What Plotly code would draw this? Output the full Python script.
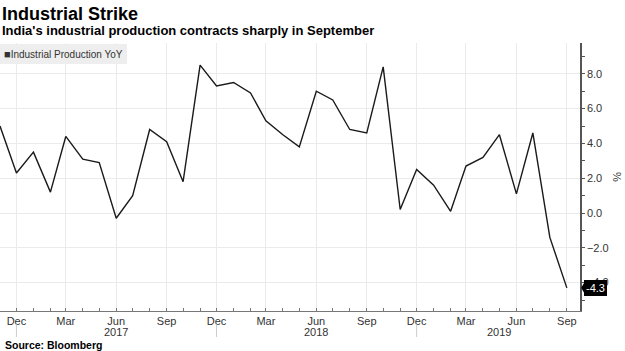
import plotly.graph_objects as go

months = ["2016-11-01", "2016-12-01",
          "2017-01-01", "2017-02-01", "2017-03-01", "2017-04-01", "2017-05-01", "2017-06-01",
          "2017-07-01", "2017-08-01", "2017-09-01", "2017-10-01", "2017-11-01", "2017-12-01",
          "2018-01-01", "2018-02-01", "2018-03-01", "2018-04-01", "2018-05-01", "2018-06-01",
          "2018-07-01", "2018-08-01", "2018-09-01", "2018-10-01", "2018-11-01", "2018-12-01",
          "2019-01-01", "2019-02-01", "2019-03-01", "2019-04-01", "2019-05-01", "2019-06-01",
          "2019-07-01", "2019-08-01", "2019-09-01"]
ip_yoy = [5.0, 2.3,
          3.5, 1.2, 4.4, 3.1, 2.9, -0.3,
          1.0, 4.8, 4.1, 1.8, 8.5, 7.3,
          7.5, 6.9, 5.3, 4.5, 3.8, 7.0,
          6.5, 4.8, 4.6, 8.4, 0.2, 2.5,
          1.6, 0.1, 2.7, 3.2, 4.5, 1.1,
          4.6, -1.4, -4.3]

year_labels = ["2017", "2018", "2019"]
year_label_pos = ["2017-06-01", "2018-06-01", "2019-05-01"]
year_separators = ["2016-12-01", "2017-12-01", "2018-12-01"]

title = "Industrial Strike"
subtitle = "India's industrial production contracts sharply in September"
series_name = "Industrial Production YoY"
source = "Source: Bloomberg"

FONT = "Liberation Sans, Arial, sans-serif"

fig = go.Figure()
fig.add_trace(go.Scatter(x=months, y=ip_yoy, mode="lines", name=series_name,
                         line=dict(color="#1a1a1a", width=1.4), showlegend=False))

fig.update_layout(
    width=625, height=351,
    margin=dict(l=0, r=45, t=43, b=40),
    paper_bgcolor="white", plot_bgcolor="white",
    font=dict(family=FONT, color="#333333", size=11),
    showlegend=False,
)

fig.update_xaxes(
    type="date",
    range=["2016-11-01", "2019-09-25"],
    tick0="2016-12-01", dtick="M3", tickformat="%b",
    ticks="inside", ticklen=3, tickcolor="#777777",
    showgrid=True, gridcolor="#ebebeb", gridwidth=1,
    showline=True, linecolor="#777777", linewidth=1,
    minor=dict(dtick="M1", tick0="2016-12-01", ticks="inside", ticklen=3,
               tickcolor="#777777", showgrid=False),
    tickfont=dict(size=11, color="#333333"),
    zeroline=False,
)

fig.update_yaxes(
    side="right",
    range=[-5.63, 9.77],
    tick0=0, dtick=2, tickformat=".1f",
    ticks="outside", ticklen=3, tickcolor="#555555",
    showgrid=True, gridcolor="#ebebeb", gridwidth=1,
    showline=True, linecolor="#555555", linewidth=1.5,
    minor=dict(dtick=1, ticks="outside", ticklen=3, tickcolor="#555555", showgrid=False),
    tickfont=dict(size=11, color="#333333"),
    zeroline=False,
)

ann = []
ann.append(dict(text="<b>" + title + "</b>", xref="paper", yref="paper", x=0, y=1.108,
                xanchor="left", yanchor="middle", showarrow=False,
                font=dict(size=18, color="#000000", family=FONT)))
ann.append(dict(text="<b>" + subtitle + "</b>", xref="paper", yref="paper", x=0, y=1.045,
                xanchor="left", yanchor="middle", showarrow=False,
                font=dict(size=13, color="#000000", family=FONT)))
ann.append(dict(text="<b>" + source + "</b>", xref="paper", yref="paper", x=0.005, y=-0.127,
                xanchor="left", yanchor="middle", showarrow=False,
                font=dict(size=10.5, color="#000000", family=FONT)))
ann.append(dict(text="<span style='font-size:11px'>■</span>" + series_name, xref="paper", yref="paper",
                x=0, y=0.959, xanchor="left", yanchor="middle", showarrow=False,
                bgcolor="#eeeeee", borderpad=4, borderwidth=0,
                font=dict(size=10, color="#333333", family=FONT)))
ann.append(dict(text="%", xref="paper", yref="paper", x=1.064, y=0.5, textangle=90,
                xanchor="center", yanchor="middle", showarrow=False,
                font=dict(size=11, color="#333333", family=FONT)))
for lbl, pos in zip(year_labels, year_label_pos):
    ann.append(dict(text=lbl, xref="x", yref="paper", x=pos, y=-0.078,
                    xanchor="center", yanchor="middle", showarrow=False,
                    font=dict(size=11, color="#333333", family=FONT)))
ann.append(dict(text=f"{ip_yoy[-1]:.1f}", xref="paper", yref="y", x=1.007, y=ip_yoy[-1],
                xanchor="left", yanchor="middle", showarrow=False,
                bgcolor="#000000", borderpad=2, borderwidth=0,
                font=dict(size=11, color="#ffffff", family=FONT)))
fig.update_layout(annotations=ann)

shapes = []
for d in year_separators:
    shapes.append(dict(type="line", xref="x", yref="paper", x0=d, x1=d, y0=-0.05, y1=-0.097,
                       line=dict(color="#cccccc", width=1)))
shapes.append(dict(type="path", xref="paper", yref="y",
                   path=f"M 1.002 {ip_yoy[-1]} L 1.009 {ip_yoy[-1] + 0.4} L 1.009 {ip_yoy[-1] - 0.4} Z",
                   fillcolor="#000000", line=dict(width=0)))
fig.update_layout(shapes=shapes)

fig.write_html("out.html")
